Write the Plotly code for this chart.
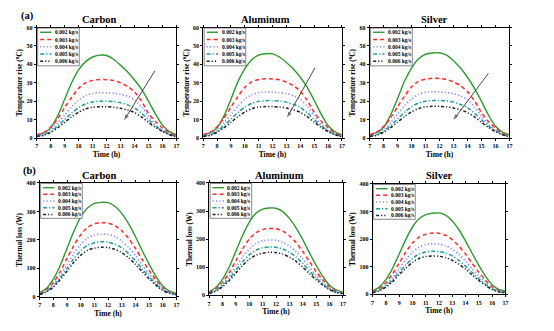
import plotly.graph_objects as go

W, H = 554, 331

# ---------------- data ----------------
hours = [7, 7.5, 8, 8.5, 9, 9.5, 10, 10.5, 11, 11.5, 12,
         12.5, 13, 13.5, 14, 14.5, 15, 15.5, 16, 16.5, 17]
flow_labels = ["0.002 kg/s", "0.003 kg/s", "0.004 kg/s", "0.005 kg/s", "0.006 kg/s"]

# Temperature rise (°C), one list per mass flow rate
carbon_temp = [
    [1.5, 2.8, 5.5, 12, 21, 30, 37, 41.5, 44, 45, 44.8, 42.8, 39.6, 36, 31.5, 26.5, 20, 13, 7, 3.5, 1.8],
    [1.8, 3, 6, 10.5, 16.5, 22, 27, 30, 31.3, 31.8, 31.7, 31.2, 30, 28, 25, 20, 13.5, 9, 5.5, 2.8, 1.5],
    [1.2, 2.2, 4.5, 8, 12.5, 17, 20.5, 23, 24.2, 24.6, 24.5, 24.3, 23.8, 22.8, 20.8, 17, 12, 7.5, 4, 2, 1],
    [1, 1.8, 3.6, 6.5, 10, 13.5, 16.5, 18.5, 19.6, 20, 20, 19.8, 19.2, 18, 16.4, 13.5, 10, 6.5, 4, 2, 0.8],
    [0.8, 1.5, 3, 5.5, 8.5, 11.5, 14, 15.8, 16.7, 17, 17, 16.7, 16.2, 15.2, 13.8, 11.5, 8.5, 5.8, 3.5, 1.8, 0.8],
]
aluminum_temp = [
    [1.6, 2.9, 5.6, 12, 21, 30.5, 37.5, 42.5, 45, 45.8, 45.7, 44, 41, 37.5, 33, 27.5, 20.5, 13, 6.8, 3.4, 1.8],
    [1.8, 3.1, 6.1, 10.8, 16.8, 22.5, 27.5, 30.5, 31.8, 32.2, 32.1, 31.6, 30.4, 28.4, 25.4, 20.5, 14, 9.2, 5.6, 2.8, 1.5],
    [1.2, 2.3, 4.6, 8.2, 12.8, 17.3, 21, 23.5, 24.6, 25, 24.9, 24.6, 24.1, 23, 21, 17.2, 12.2, 7.6, 4.1, 2, 1],
    [1, 1.8, 3.7, 6.6, 10.2, 13.8, 16.8, 18.8, 19.9, 20.3, 20.3, 20.1, 19.5, 18.3, 16.6, 13.7, 10.1, 6.6, 4, 2, 0.8],
    [0.8, 1.5, 3, 5.5, 8.5, 11.6, 14.1, 15.9, 16.8, 17.1, 17.1, 16.8, 16.3, 15.3, 13.9, 11.6, 8.6, 5.8, 3.5, 1.8, 0.8],
]
silver_temp = [
    [1.7, 3, 5.8, 12.5, 21.5, 31, 38, 43, 45.5, 46.2, 46.3, 45, 42, 38, 33, 27, 20, 12.5, 6.5, 3.2, 1.8],
    [1.8, 3.1, 6.2, 11, 17, 22.8, 27.8, 30.8, 32, 32.4, 32.3, 31.8, 30.5, 28.4, 25.2, 20.2, 13.8, 9, 5.5, 2.8, 1.5],
    [1.2, 2.3, 4.7, 8.3, 13, 17.5, 21.2, 23.7, 24.8, 25.1, 25, 24.7, 24.1, 22.9, 20.8, 17, 12, 7.5, 4, 2, 1],
    [1, 1.9, 3.8, 6.7, 10.3, 14, 17, 19, 20, 20.4, 20.4, 20.1, 19.5, 18.2, 16.5, 13.5, 10, 6.5, 4, 2, 0.8],
    [0.8, 1.5, 3.1, 5.6, 8.6, 11.7, 14.2, 16, 16.9, 17.2, 17.2, 16.9, 16.3, 15.3, 13.8, 11.5, 8.5, 5.8, 3.5, 1.8, 0.8],
]

# Thermal loss (W), one list per mass flow rate
carbon_loss = [
    [14, 30, 62, 110, 170, 230, 280, 312, 328, 332, 331, 318, 293, 257, 212, 162, 115, 72, 38, 20, 12],
    [12, 25, 50, 88, 135, 180, 218, 244, 256, 260, 259, 250, 232, 205, 170, 131, 93, 60, 32, 16, 10],
    [10, 21, 43, 75, 114, 152, 184, 206, 217, 220, 219, 211, 196, 174, 145, 112, 80, 52, 28, 14, 9],
    [9, 19, 38, 66, 100, 134, 162, 181, 190, 193, 192, 185, 172, 152, 127, 98, 70, 45, 25, 13, 8],
    [8, 17, 34, 60, 90, 121, 146, 163, 171, 174, 173, 167, 155, 137, 114, 88, 63, 41, 22, 12, 7],
]
aluminum_loss = [
    [13, 28, 57, 101, 157, 213, 260, 292, 307, 311, 310, 298, 274, 240, 198, 151, 107, 67, 36, 19, 11],
    [11, 23, 46, 80, 123, 165, 200, 223, 234, 238, 237, 229, 212, 188, 156, 120, 85, 55, 29, 15, 9],
    [9, 19, 38, 67, 102, 136, 165, 184, 194, 197, 196, 189, 175, 156, 130, 100, 72, 46, 25, 13, 8],
    [8, 17, 34, 59, 89, 119, 144, 161, 169, 172, 171, 165, 153, 136, 113, 87, 62, 40, 22, 11, 7],
    [7, 15, 30, 52, 79, 106, 128, 143, 150, 153, 152, 147, 136, 121, 100, 77, 55, 36, 20, 10, 6],
]
silver_loss = [
    [12, 26, 53, 94, 146, 199, 244, 274, 289, 294, 295, 287, 266, 234, 193, 148, 105, 66, 35, 18, 11],
    [10, 21, 42, 74, 113, 153, 186, 207, 218, 222, 221, 214, 198, 175, 146, 112, 80, 51, 27, 14, 8],
    [8, 17, 35, 61, 93, 126, 153, 171, 180, 183, 182, 176, 163, 144, 120, 93, 66, 43, 23, 12, 7],
    [7, 15, 30, 52, 80, 107, 130, 146, 153, 156, 155, 150, 139, 123, 102, 79, 56, 36, 20, 10, 6],
    [6, 13, 26, 46, 71, 95, 116, 130, 137, 139, 138, 133, 123, 109, 91, 70, 50, 32, 17, 9, 5],
]

# Trend arrows on the temperature panels: [tail_x, head_x], [tail_y, head_y]
arrow_carbon_x, arrow_carbon_y = [15.46, 13.26], [36.5, 9.7]
arrow_aluminum_x, arrow_aluminum_y = [15.07, 13.05], [38.3, 11.1]
arrow_silver_x, arrow_silver_y = [15.5, 13.0], [35.1, 9.9]

# ---------------- styling ----------------
FONT = "Liberation Serif"
colors = ["#2f9a2f", "#ff2a2a", "#8585ff", "#1f9c9c", "#222222"]
dashes = ["solid", "4px,3px", "1.2px,2.2px", "4px,2px,1.2px,2px", "3px,2px,1.2px,2px,1.2px,2px"]
widths = [1.4, 1.5, 1.6, 1.5, 1.5]


def fx(px):
    return px / W


def fy(py):
    return 1 - py / H


panels = [
    dict(title="Carbon", data=carbon_temp, box=(35, 25, 176, 137.5), top=True,
         title_xy=(98, 17), arrow=(arrow_carbon_x, arrow_carbon_y)),
    dict(title="Aluminum", data=aluminum_temp, box=(203, 25, 343, 137.5), top=True,
         title_xy=(266, 17), arrow=(arrow_aluminum_x, arrow_aluminum_y)),
    dict(title="Silver", data=silver_temp, box=(371, 25, 512, 137.5), top=True,
         title_xy=(436, 17), arrow=(arrow_silver_x, arrow_silver_y)),
    dict(title="Carbon", data=carbon_loss, box=(38, 183.3, 176, 299.2), top=False,
         title_xy=(98, 176), arrow=None),
    dict(title="Aluminum", data=aluminum_loss, box=(209, 183.3, 344, 297.7), top=False,
         title_xy=(280, 176), arrow=None),
    dict(title="Silver", data=silver_loss, box=(374, 184.3, 508, 296.7), top=False,
         title_xy=(441, 176), arrow=None),
]

fig = go.Figure()
layout = dict(
    width=W, height=H, margin=dict(l=0, r=0, t=0, b=0),
    paper_bgcolor="white", plot_bgcolor="white", showlegend=False,
    font=dict(family=FONT, color="black"),
)
annotations = []
shapes = []

for i, p in enumerate(panels):
    n = "" if i == 0 else str(i + 1)
    xa, ya = "x" + n, "y" + n
    x0, y0, x1, y1 = p["box"]
    axis_common = dict(
        showline=True, linecolor="black", linewidth=1, mirror="ticks",
        ticks="outside", ticklen=2, tickwidth=0.8, tickcolor="black",
        showgrid=False, zeroline=False,
        tickfont=dict(family=FONT, size=6, color="black", weight="bold"),
    )
    layout["xaxis" + n] = dict(
        axis_common, domain=[fx(x0), fx(x1)], range=[7, 17], dtick=1,
        tick0=7, anchor=ya,
        title=dict(text="<b>Time (h)</b>", standoff=3,
                   font=dict(family=FONT, size=7.5, color="black")),
    )
    if p["top"]:
        yrange, ydtick = [0, 60], 10
        ytitle = "Temperature rise (<sup>o</sup>C)"
    else:
        yrange, ydtick = [0, 400], 100
        ytitle = "Thermal loss (W)"
    layout["yaxis" + n] = dict(
        axis_common, domain=[fy(y1), fy(y0)], range=yrange, dtick=ydtick,
        anchor=xa,
        title=dict(text="<b>%s</b>" % ytitle, standoff=2,
                   font=dict(family=FONT, size=7.2, color="black")),
    )

    for k, series in enumerate(p["data"]):
        fig.add_trace(go.Scatter(
            x=hours, y=series, mode="lines", name=flow_labels[k],
            line=dict(color=colors[k], width=widths[k], dash=dashes[k], shape="spline", smoothing=0.8),
            xaxis=xa, yaxis=ya, showlegend=False,
        ))

    # trend arrow: thin line with an arrowhead marker at its lower end
    if p["arrow"]:
        ax_x, ax_y = p["arrow"]
        fig.add_trace(go.Scatter(
            x=ax_x, y=ax_y, mode="lines+markers", xaxis=xa, yaxis=ya,
            line=dict(color="#333333", width=0.9),
            marker=dict(symbol="arrow", angleref="previous", size=[0, 6],
                        color="#333333", line=dict(width=0)),
            showlegend=False, hoverinfo="skip",
        ))

    # panel title
    annotations.append(dict(
        text="<b>%s</b>" % p["title"], xref="paper", yref="paper",
        x=fx(p["title_xy"][0]), y=fy(p["title_xy"][1]), xanchor="center", yanchor="middle",
        showarrow=False, font=dict(family=FONT, size=10.5, color="black"),
    ))

    # legend box inside the upper-left corner
    row_gap = 7.4 if p["top"] else 6.8
    lx0, ly0 = x0 + 1, y0 + 0.5
    lx1 = lx0 + 42
    ly1 = ly0 + 5 * row_gap + 1.5
    shapes.append(dict(
        type="rect", xref="paper", yref="paper",
        x0=fx(lx0), x1=fx(lx1), y0=fy(ly0), y1=fy(ly1),
        line=dict(color="#555555", width=0.7), fillcolor="white", layer="above",
    ))
    for k in range(5):
        ry = ly0 + 4.3 + k * row_gap
        shapes.append(dict(
            type="line", xref="paper", yref="paper",
            x0=fx(lx0 + 2.5), x1=fx(lx0 + 14), y0=fy(ry), y1=fy(ry),
            line=dict(color=colors[k], width=widths[k], dash=dashes[k]), layer="above",
        ))
        annotations.append(dict(
            text="<b>%s</b>" % flow_labels[k], xref="paper", yref="paper",
            x=fx(lx0 + 15.5), y=fy(ry), xanchor="left", yanchor="middle",
            showarrow=False, font=dict(family=FONT, size=5.5, color="black"),
        ))

# panel group labels
annotations.append(dict(
    text="<b>(a)</b>", xref="paper", yref="paper", x=fx(26), y=fy(13),
    xanchor="center", yanchor="middle", showarrow=False,
    font=dict(family=FONT, size=10.5, color="black"),
))
annotations.append(dict(
    text="<b>(b)</b>", xref="paper", yref="paper", x=fx(28), y=fy(171),
    xanchor="center", yanchor="middle", showarrow=False,
    font=dict(family=FONT, size=10.5, color="black"),
))

layout["annotations"] = annotations
layout["shapes"] = shapes
fig.update_layout(**layout)
fig.write_html("out.html")
